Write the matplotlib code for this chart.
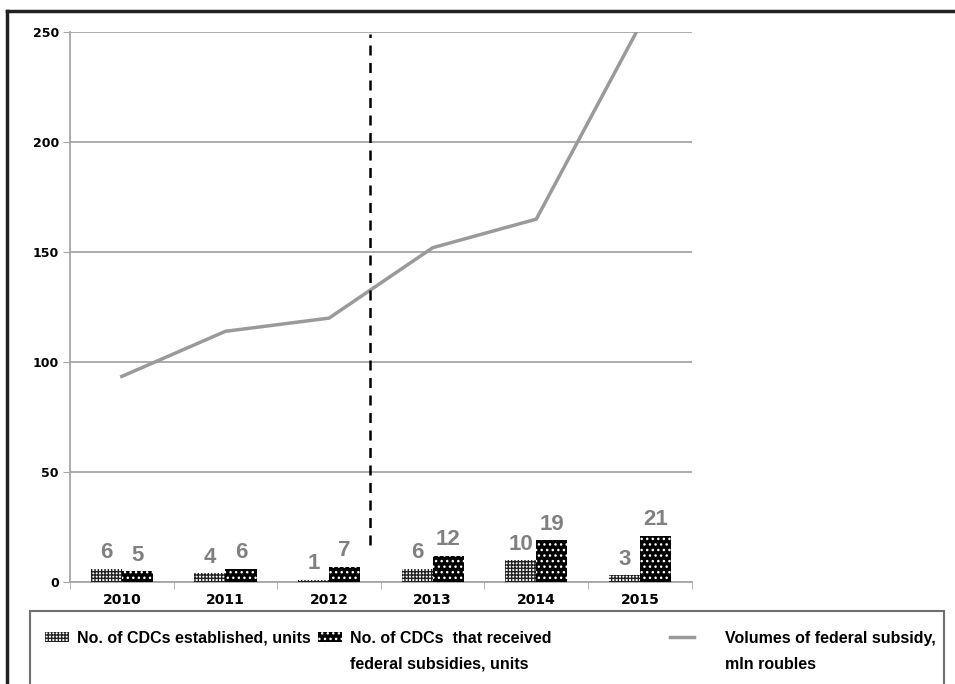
import numpy as np
import matplotlib.pyplot as plt
from matplotlib.patches import Patch, Rectangle
from matplotlib.lines import Line2D

years = ["2010", "2011", "2012", "2013", "2014", "2015"]
cdc_established = [6, 4, 1, 6, 10, 3]
cdc_subsidised = [5, 6, 7, 12, 19, 21]
federal_subsidy = [93.5, 114, 120, 152, 165, 253]

legend_first = ["No. of CDCs established, units", "No. of CDCs  that received",
                "Volumes of federal subsidy,"]
legend_second = ["", "federal subsidies, units", "mln roubles"]

plt.rcParams["font.family"] = ["Liberation Sans", "DejaVu Sans"]
plt.rcParams["hatch.linewidth"] = 1.0

fig = plt.figure(figsize=(9.55, 6.84), dpi=100)
ax = fig.add_axes([0.0733, 0.149, 0.651, 0.804])

x = np.arange(len(years))
w = 0.3

ax.bar(x - w / 2, cdc_established, w, facecolor="white", edgecolor="#222222",
       hatch="+++++", linewidth=0, zorder=3)
ax.bar(x + w / 2, cdc_subsidised, w, facecolor="black", edgecolor="white",
       hatch="...", linewidth=0, zorder=3)

for i in range(len(years)):
    ax.annotate(str(cdc_established[i]), (x[i] - w / 2, cdc_established[i]),
                xytext=(0, 4), textcoords="offset points", ha="center", va="bottom",
                fontsize=16, fontweight="bold", color="#808080")
    ax.annotate(str(cdc_subsidised[i]), (x[i] + w / 2, cdc_subsidised[i]),
                xytext=(0, 4), textcoords="offset points", ha="center", va="bottom",
                fontsize=16, fontweight="bold", color="#808080")

ax.plot(x, federal_subsidy, color="#9a9a9a", linewidth=2.5, zorder=4)

# dashed divider between 2012 and 2013
ax.plot([2.4, 2.4], [17, 249], color="black", linestyle=(0, (4, 3)), linewidth=1.8, zorder=5)

ax.set_xlim(-0.5, len(years) - 0.5)
ax.set_ylim(0, 250)
ax.set_yticks([0, 50, 100, 150, 200, 250])
ax.yaxis.grid(True, color="#a6a6a6", linewidth=1.3)
ax.set_axisbelow(True)

ax.set_xticks(x)
ax.set_xticklabels(years, fontweight="bold", fontsize=10, family="DejaVu Sans")
ax.set_xticks(np.arange(-0.5, len(years)), minor=True)
ax.tick_params(axis="x", which="major", length=0, pad=8)
ax.tick_params(axis="x", which="minor", length=5, color="#a6a6a6")
ax.tick_params(axis="y", length=5, color="#a6a6a6", pad=3)
for lbl in ax.get_yticklabels():
    lbl.set_fontweight("bold")
    lbl.set_fontsize(9)
    lbl.set_family("DejaVu Sans")

for s in ["top", "right"]:
    ax.spines[s].set_visible(False)
ax.spines["left"].set_color("#a6a6a6")
ax.spines["bottom"].set_color("#a6a6a6")
ax.spines["left"].set_linewidth(1.3)
ax.spines["bottom"].set_linewidth(1.3)

# legend box
fig.patches.append(Rectangle((0.031, -0.1), 0.958, 0.207, transform=fig.transFigure,
                             facecolor="white", edgecolor="#707070", linewidth=1.5))
handles = [
    Patch(facecolor="white", edgecolor="#222222", hatch="+++++", linewidth=0),
    Patch(facecolor="black", edgecolor="white", hatch="...", linewidth=0),
    Line2D([], [], color="#9a9a9a", linewidth=2.5),
]
legend_x = [0.047, 0.333, 0.702]
text_pads = [0.5, 0.5, 1.9]
legend_y = 0.067
legends = []
for h, lab, lx, pad in zip(handles, legend_first, legend_x, text_pads):
    leg = fig.legend([h], [lab], loc="center left", bbox_to_anchor=(lx, legend_y),
                     frameon=False, prop={"weight": "bold", "size": 11.5},
                     handlelength=1.5, handleheight=0.6, handletextpad=pad,
                     borderpad=0, borderaxespad=0)
    legends.append(leg)

fig.canvas.draw()
renderer = fig.canvas.get_renderer()
for leg, second in zip(legends, legend_second):
    if not second:
        continue
    bb = leg.get_texts()[0].get_window_extent(renderer).transformed(fig.transFigure.inverted())
    fig.text(bb.x0, legend_y - 0.038, second, ha="left", va="center",
             fontsize=11.5, fontweight="bold")

# outer frame
fig.add_artist(Line2D([0.007, 0.007], [0, 0.984], transform=fig.transFigure,
                      color="#222222", linewidth=2.5))
fig.add_artist(Line2D([0.007, 1.0], [0.984, 0.984], transform=fig.transFigure,
                      color="#222222", linewidth=2.5))

fig.savefig("out.png", dpi=100)
